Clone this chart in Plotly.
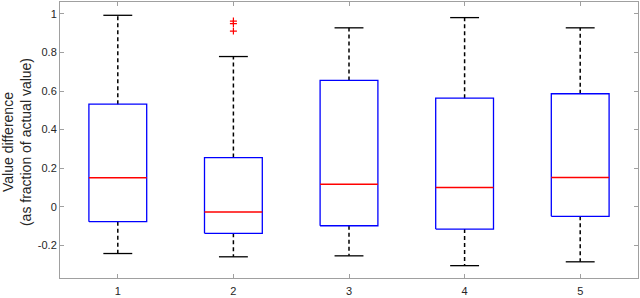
import plotly.graph_objects as go

categories = [1, 2, 3, 4, 5]
tick_labels = ["1", "2", "3", "4", "5"]
q1 = [-0.078, -0.138, -0.099, -0.116, -0.050]
median = [0.150, -0.027, 0.116, 0.099, 0.152]
q3 = [0.532, 0.255, 0.655, 0.563, 0.586]
lower_whisker = [-0.243, -0.260, -0.255, -0.306, -0.286]
upper_whisker = [0.993, 0.779, 0.928, 0.981, 0.928]
outlier_x = [2, 2, 2]
outlier_y = [0.963, 0.950, 0.911]
y_tick_vals = [-0.2, 0, 0.2, 0.4, 0.6, 0.8, 1]
y_tick_text = ["-0.2", "0", "0.2", "0.4", "0.6", "0.8", "1"]

half_box = 0.25
half_cap = 0.125

bx, by, mx, my, wx, wy, cx, cy = [], [], [], [], [], [], [], []
for i, c in enumerate(categories):
    bx += [c - half_box, c + half_box, c + half_box, c - half_box, c - half_box, None]
    by += [q1[i], q1[i], q3[i], q3[i], q1[i], None]
    mx += [c - half_box, c + half_box, None]
    my += [median[i], median[i], None]
    wx += [c, c, None, c, c, None]
    wy += [q3[i], upper_whisker[i], None, q1[i], lower_whisker[i], None]
    cx += [c - half_cap, c + half_cap, None, c - half_cap, c + half_cap, None]
    cy += [upper_whisker[i], upper_whisker[i], None, lower_whisker[i], lower_whisker[i], None]

fig = go.Figure()
fig.add_trace(go.Scatter(x=wx, y=wy, mode="lines", line=dict(color="black", width=1.5, dash="4px,3px"), hoverinfo="skip"))
fig.add_trace(go.Scatter(x=cx, y=cy, mode="lines", line=dict(color="black", width=1.3), hoverinfo="skip"))
fig.add_trace(go.Scatter(x=bx, y=by, mode="lines", line=dict(color="#0000ff", width=1.3), hoverinfo="skip"))
fig.add_trace(go.Scatter(x=mx, y=my, mode="lines", line=dict(color="#ff0000", width=1.5), hoverinfo="skip"))
fig.add_trace(go.Scatter(x=outlier_x, y=outlier_y, mode="markers",
                         marker=dict(symbol="cross-thin", size=5, line=dict(color="#ff0000", width=1.2)),
                         hoverinfo="skip"))

axis_common = dict(showline=True, linecolor="#a0a0a0", linewidth=1, mirror="ticks",
                   ticks="inside", ticklen=4, tickcolor="#a0a0a0", showgrid=False, zeroline=False,
                   tickfont=dict(family="Liberation Sans, Arial", size=11, color="#262626"))

fig.update_layout(
    width=640, height=298,
    margin=dict(l=60, r=1, t=1, b=19),
    plot_bgcolor="white", paper_bgcolor="white",
    showlegend=False,
    xaxis=dict(range=[0.5, 5.5], tickvals=categories, ticktext=tick_labels, ticklabelstandoff=3, **axis_common),
    yaxis=dict(range=[-0.37, 1.062], tickvals=y_tick_vals, ticktext=y_tick_text, **axis_common),
    annotations=[dict(text="Value difference<br>(as fraction of actual value)", xref="paper", yref="paper",
                      x=(17 - 60) / 579, y=0.5 - 2 / 278, xanchor="center", yanchor="middle",
                      textangle=-90, showarrow=False,
                      font=dict(family="Liberation Sans, Arial", size=14, color="#262626"))],
)

fig.write_html("out.html", config={"displayModeBar": False},
               post_script="document.body.style.margin='0';document.body.style.padding='0';")
